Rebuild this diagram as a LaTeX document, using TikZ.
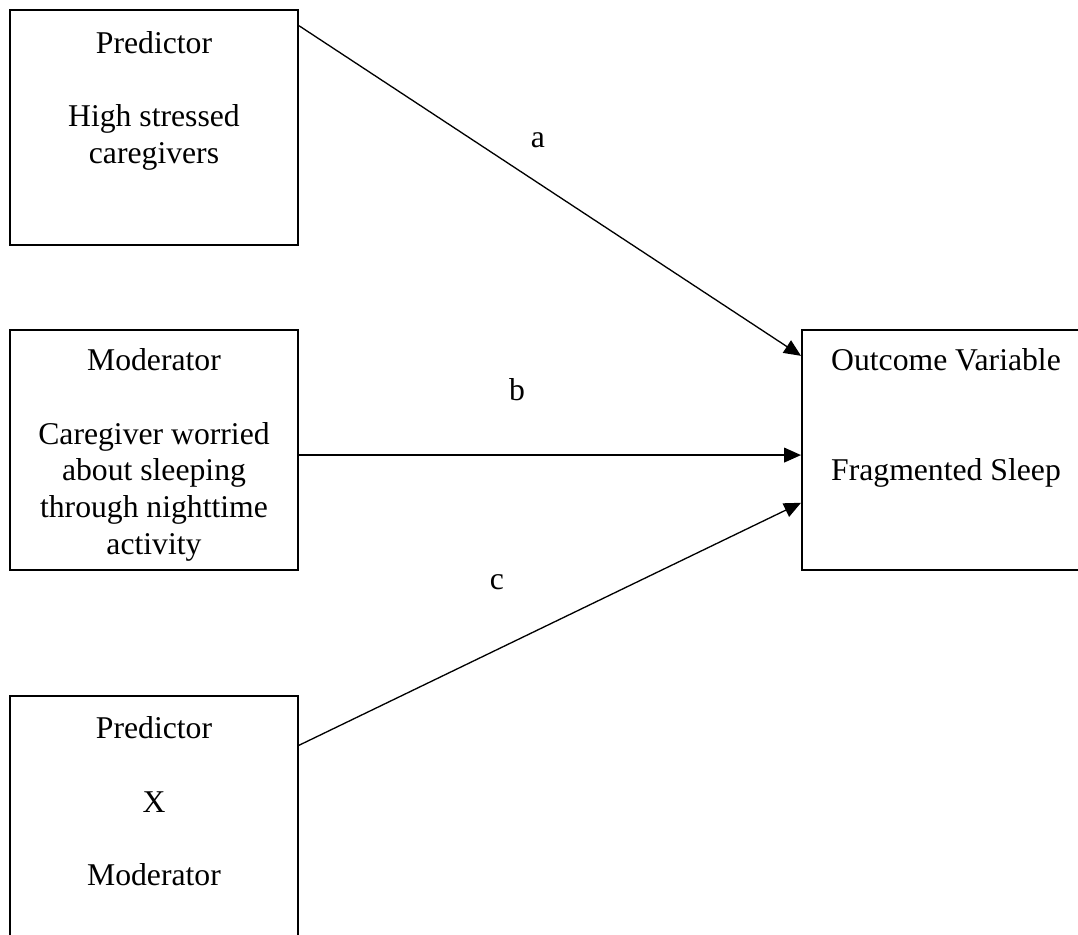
\documentclass[tikz,border=0pt]{standalone}
\usepackage{fontspec}
\setmainfont{Liberation Serif}
\usetikzlibrary{positioning,arrows.meta}
\tikzset{
  varbox/.style={draw, line width=0.75pt, minimum width=109.1pt, inner sep=0pt},
  vartext/.style={anchor=north, align=center, inner sep=0pt, font=\fontsize{12}{13.9}\selectfont},
  effect/.style={-{Triangle[length=6.4pt,width=5.6pt]}, line width=0.5pt},
  effectlabel/.style={inner sep=0pt, font=\fontsize{12}{13.9}\selectfont}
}
\begin{document}
\begin{tikzpicture}[x=0.3788pt, y=-0.3788pt]
  \useasboundingbox (0,0) rectangle (1078,934);
  %Boxes on the left
  \node[varbox, minimum height=89.2pt] (pred) at (154,127.25) {};
  \node[varbox, minimum height=90.9pt] (mod) at (154,450) {};
  \node[varbox, minimum height=90.9pt] (inter) at (154,816) {};
  %Box on the right
  \node[varbox, minimum height=90.9pt] (outcome) at (946,450) {};
  %Texts in the boxes
  \node[vartext, below=8.4pt of pred.north] (predtext) {Predictor\\[13.9pt]High stressed\\caregivers};
  \node[vartext, below=7.3pt of mod.north] (modtext) {Moderator\\[13.9pt]Caregiver worried\\about sleeping\\through nighttime\\activity};
  \node[vartext, below=8pt of inter.north] (intertext) {Predictor\\[13.9pt]X\\[13.9pt]Moderator};
  \node[vartext, below=7.3pt of outcome.north] (outcometext) {Outcome Variable\\[27.8pt]Fragmented Sleep};
  %Paths
  \draw[effect] (pred.35.4) -- (outcome.147.4);
  \draw[effect] (mod.-2.4) -- (outcome.182.4);
  \draw[effect] (inter.26.9) -- (outcome.200.9);
  %Path labels
  \node[effectlabel] (alabel) at (538,140) {a};
  \node[effectlabel] (blabel) at (517,390) {b};
  \node[effectlabel] (clabel) at (497,582) {c};
\end{tikzpicture}
\end{document}
